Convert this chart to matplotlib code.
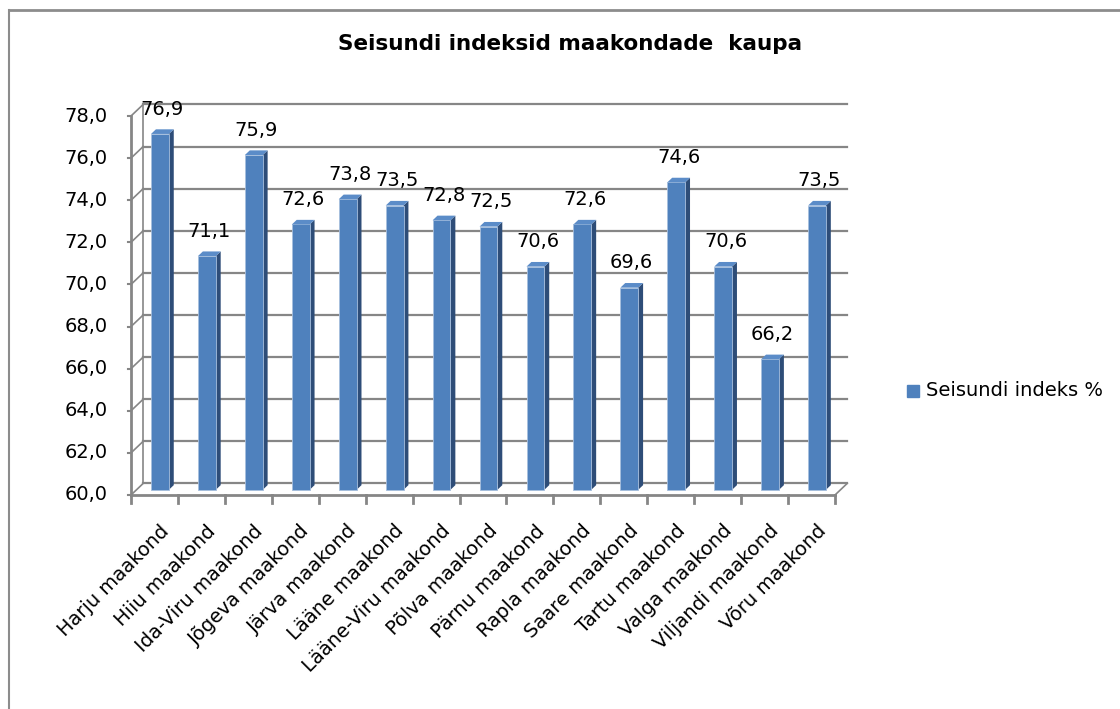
import numpy as np
import matplotlib
matplotlib.use("Agg")
import matplotlib.pyplot as plt
from matplotlib.patches import Polygon
from matplotlib.lines import Line2D

# data ------------------------------------------------------------
maakonnad = ["Harju maakond", "Hiiu maakond", "Ida-Viru maakond", "Jõgeva maakond",
             "Järva maakond", "Lääne maakond", "Lääne-Viru maakond", "Põlva maakond",
             "Pärnu maakond", "Rapla maakond", "Saare maakond", "Tartu maakond",
             "Valga maakond", "Viljandi maakond", "Võru maakond"]
indeks = [76.9, 71.1, 75.9, 72.6, 73.8, 73.5, 72.8, 72.5, 70.6, 72.6, 69.6, 74.6, 70.6, 66.2, 73.5]
y_ticks = [60, 62, 64, 66, 68, 70, 72, 74, 76, 78]

# 3D look parameters (in data units)
DX = 0.26      # depth shift along x (categories)
DY = 0.55      # depth shift along y (value units)
W = 0.38       # bar width
B0, B1 = 0.45, 0.85   # bar front / back depth fraction

c_front = "#4F81BD"
c_side = "#2E4D78"
c_top = "#5B8CC8"
c_grid = "#868686"
FS = 14

fig = plt.figure(figsize=(11.2, 7.09), dpi=100)
ax = fig.add_axes([131/1120, 1-495/709, 704/1120, 379/709])
n = len(indeks)
ax.set_xlim(-0.5, n-0.5)
ax.set_ylim(60, 78)
ax.axis("off")

# chart border (top and left only visible)
fig.add_artist(Line2D([9/1120, 9/1120], [0, 1-10/709], transform=fig.transFigure,
                      color="#8C8C8C", lw=1.5))
fig.add_artist(Line2D([9/1120, 1], [1-10/709, 1-10/709], transform=fig.transFigure,
                      color="#8C8C8C", lw=2))

# back wall gridlines + left diagonals
for v in y_ticks:
    ax.plot([-0.5+DX, n-0.5+DX], [v+DY, v+DY], color=c_grid, lw=1.6, clip_on=False, zorder=1)
    ax.plot([-0.5, -0.5+DX], [v, v], color="none")
    ax.plot([-0.5, -0.5+DX], [v, v+DY], color=c_grid, lw=1.2, clip_on=False, zorder=1)
    ax.plot([-0.5-0.06, -0.5], [v, v], color=c_grid, lw=1.5, clip_on=False, zorder=1)
    ax.text(-0.5-0.5, v, f"{v:.1f}".replace(".", ","), ha="right", va="center", fontsize=FS)

# left axis, bottom axis, bottom right diagonal
ax.plot([-0.5, -0.5], [60, 78], color=c_grid, lw=2, clip_on=False, zorder=1)
ax.plot([-0.5+DX, -0.5+DX], [60+DY, 78+DY], color=c_grid, lw=1.2, clip_on=False, zorder=0)
ax.plot([-0.5, n-0.5], [60, 60], color=c_grid, lw=2, clip_on=False, zorder=5)
ax.plot([n-0.5, n-0.5+DX], [60, 60+DY], color=c_grid, lw=1.2, clip_on=False, zorder=5)
for k in range(n+1):
    ax.plot([k-0.5, k-0.5], [60, 60-0.4], color=c_grid, lw=2, clip_on=False, zorder=5)

# bars
x = np.arange(n)
x0 = x - W/2 + B0*DX
y0 = 60 + B0*DY
ax.bar(x0, np.array(indeks) - 60, width=W, bottom=y0, align="edge",
       color=c_front, edgecolor="#A7BFDE", linewidth=0.6, zorder=3, clip_on=False)
ddx = (B1-B0)*DX
ddy = (B1-B0)*DY
for xi, v in zip(x0, indeks):
    top = v + B0*DY
    side = Polygon([(xi+W, y0), (xi+W+ddx, y0+ddy), (xi+W+ddx, top+ddy), (xi+W, top)],
                   closed=True, facecolor=c_side, edgecolor="none", zorder=2, clip_on=False)
    cap = Polygon([(xi, top), (xi+ddx, top+ddy), (xi+W+ddx, top+ddy), (xi+W, top)],
                  closed=True, facecolor=c_top, edgecolor="none", zorder=4, clip_on=False)
    ax.add_patch(side)
    ax.add_patch(cap)
    ax.text(xi+W/2+ddx/2, top+ddy+0.5, f"{v:.1f}".replace(".", ","),
            ha="center", va="bottom", fontsize=FS, zorder=6)

# category labels
for k, lab in enumerate(maakonnad):
    ax.text(k+0.1, 60-1.25, lab, rotation=45, ha="right", va="top",
            rotation_mode="anchor", fontsize=FS)

# title and legend
fig.text(570/1120, 1-44/709, "Seisundi indeksid maakondade  kaupa", ha="center", va="center",
         fontsize=15.5, fontweight="bold")
fig.patches.append(plt.Rectangle((907/1120, 1-397/709), 12/1120, 12/709,
                                 transform=fig.transFigure, color=c_front))
fig.text(926/1120, 1-391/709, "Seisundi indeks %", ha="left", va="center", fontsize=FS)

fig.savefig("out.png", dpi=100)
